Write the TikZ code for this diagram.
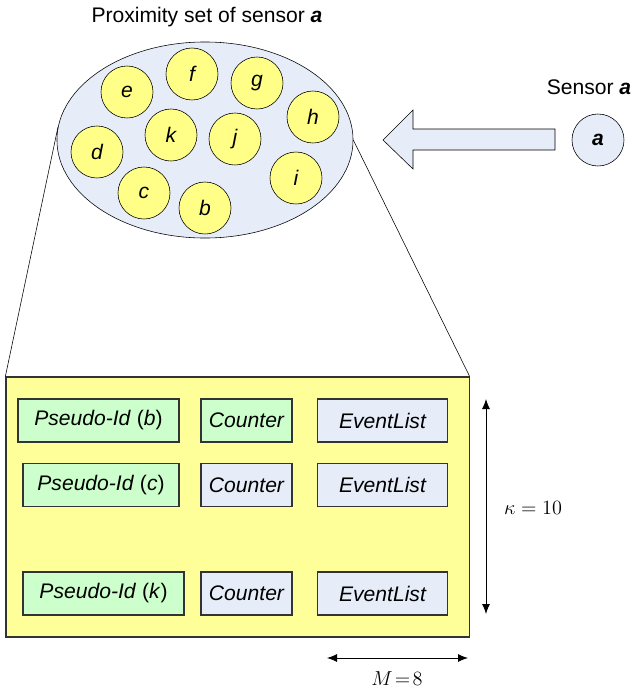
\documentclass[tikz,border=0pt]{standalone}
\usepackage{fontspec}
\setsansfont{Liberation Sans}
\usetikzlibrary{shapes.geometric, arrows.meta, positioning}
\definecolor{setblue}{HTML}{E6ECF8}
\definecolor{memberyellow}{HTML}{FFFF88}
\definecolor{tableyellow}{HTML}{FFFF99}
\definecolor{idgreen}{HTML}{CCFFCC}
\definecolor{edgegrey}{HTML}{333333}

\begin{document}
\begin{tikzpicture}[
    x=0.025cm, y=-0.025cm,
    font=\sffamily\fontsize{15}{18}\selectfont,
    member/.style={
        circle, draw, fill=memberyellow,
        minimum size=1.3cm, inner sep=0pt,
        font=\sffamily\itshape\fontsize{15}{18}\selectfont
    },
    cell/.style={
        rectangle, draw=edgegrey, thick,
        minimum height=1.075cm, inner sep=0pt,
        font=\sffamily\itshape\fontsize{15}{18}\selectfont
    },
    idcell/.style={cell, fill=idgreen, minimum width=4cm},
    countcell/.style={cell, fill=setblue, minimum width=2.275cm},
    eventcell/.style={cell, fill=setblue, minimum width=3.25cm},
    dimarr/.style={
        {Latex[length=0.25cm, width=0.2cm]}-{Latex[length=0.25cm, width=0.2cm]},
        semithick
    },
    mathlbl/.style={font=\fontsize{15.5}{18}\selectfont}
]
\useasboundingbox (0,0) rectangle (634,691);

% ==========================================
% PROXIMITY SET
% ==========================================

\node at (207,17) (title) {Proximity set of sensor \textbf{\textit{a}}};

\node[ellipse, draw, fill=setblue, minimum width=7.4cm, minimum height=4.9cm,
      inner sep=0pt] (pset) at (205,140) {};

\node[member] (e) at (127,92)  {e};
\node[member] (f) at (192,74)  {f};
\node[member] (g) at (257,83)  {g};
\node[member] (h) at (313,117) {h};
\node[member] (k) at (171,135) {k};
\node[member] (j) at (235,139) {j};
\node[member] (d) at (97,152)  {d};
\node[member] (i) at (296,178) {i};
\node[member] (c) at (144,193) {c};
\node[member] (b) at (205,208) {b};

% ==========================================
% SENSOR AND BLOCK ARROW
% ==========================================

\node at (589,87) (sensorlbl) {Sensor \textbf{\textit{a}}};
\node[circle, draw, fill=setblue, minimum size=1.3cm, inner sep=0pt]
    (sensor) at (598,140) {\textbf{\textit{a}}};

\draw[fill=setblue] (555,129) -- (413,129) -- (413,110) -- (383,140)
    -- (413,169) -- (413,150) -- (555,150) -- cycle;

% ==========================================
% TABLE OF ENTRIES
% ==========================================

\node[rectangle, draw=edgegrey, thick, fill=tableyellow,
      minimum width=11.575cm, minimum height=6.5cm, inner sep=0pt]
    (table) at (237.5,507) {};

\draw (pset.175) -- (table.north west);
\draw (pset.east) -- (table.north east);

% row b
\node[idcell, minimum width=4.025cm] (idb) at (98.5,420.5)
    {Pseudo-Id \textup{(}b\textup{)}};
\node[countcell, fill=idgreen] (cntb) at (246.5,420.5) {Counter};
\node[eventcell] (evb) at (382.5,420.5) {EventList};

% row c
\node[idcell, minimum width=3.9cm] (idc) at (101,485)
    {Pseudo-Id \textup{(}c\textup{)}};
\node[countcell] (cntc) at (246.5,485) {Counter};
\node[eventcell] (evc) at (382.5,485) {EventList};

% row k
\node[idcell, minimum width=4.025cm] (idk) at (103.5,593.5)
    {Pseudo-Id \textup{(}k\textup{)}};
\node[countcell] (cntk) at (246.5,593.5) {Counter};
\node[eventcell] (evk) at (382.5,593.5) {EventList};

% ==========================================
% DIMENSIONS
% ==========================================

\coordinate (ktop) at (486,399);
\coordinate (kbot) at (486,614);
\draw[dimarr] (ktop) -- (kbot);
\node[mathlbl] (kappa) at (533,508) {$\kappa=10$};

\coordinate (mleft) at (327,658);
\coordinate (mright) at (468,658);
\draw[dimarr] (mleft) -- (mright);
\node[mathlbl] (mlbl) at (397,679) {$M\!=\!8$};

\end{tikzpicture}
\end{document}
